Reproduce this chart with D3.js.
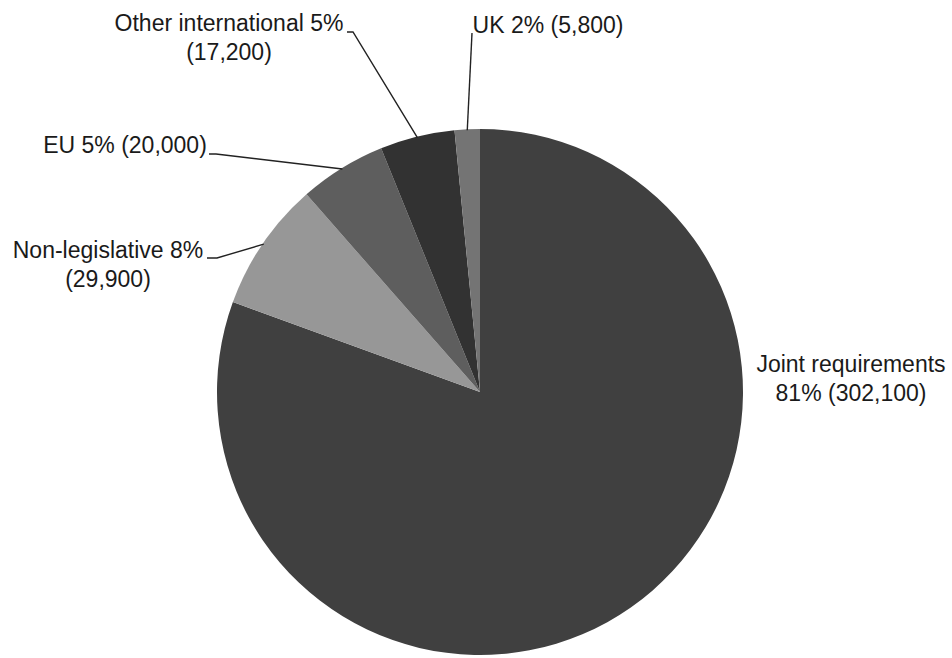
<!DOCTYPE html>
<html>
<head>
<meta charset="utf-8">
<script src="https://cdn.jsdelivr.net/npm/d3@7"></script>
<style>
  html, body { margin: 0; padding: 0; background: #ffffff; }
  svg { display: block; }
  text { font-family: "Liberation Sans", Arial, sans-serif; font-size: 23px; fill: #1a1a1a; }
</style>
</head>
<body>
<svg id="chart" width="952" height="658"></svg>
<script>
// ---- data ----
const categories = ["Joint requirements", "Non-legislative", "EU", "Other international", "UK"];
const values = [302100, 29900, 20000, 17200, 5800];
const colors = ["#404040", "#979797", "#5e5e5e", "#323232", "#747474"];

// ---- layout (label placement) ----
const cx = 480, cy = 392, r = 263;
const labelLayout = [
  { x: 851, y: 372, lines: 2, leader: null },
  { x: 108, y: 258, lines: 2, leader: [[207, 258], [217, 258]] },
  { x: 125, y: 153, lines: 1, leader: [[209, 154], [216, 154]] },
  { x: 229, y: 31, lines: 2, leader: [[347, 32], [353, 32]] },
  { x: 548, y: 33, lines: 1, leader: [[472, 33]] }
];

const total = d3.sum(values);
const pct = v => Math.round(v / total * 100) + "%";
const num = d3.format(",");

const svg = d3.select("#chart");
const g = svg.append("g").attr("transform", `translate(${cx},${cy})`);

const pie = d3.pie().sort(null).value(d => d.value);
const data = categories.map((c, i) => ({ name: c, value: values[i], color: colors[i], layout: labelLayout[i] }));
const arcs = pie(data);
const arc = d3.arc().innerRadius(0).outerRadius(r);
const edgeArc = d3.arc().innerRadius(r - 1).outerRadius(r - 1);

g.selectAll("path.slice").data(arcs).enter().append("path")
  .attr("class", "slice")
  .attr("d", arc)
  .attr("fill", d => d.data.color);

// leader lines
arcs.forEach(a => {
  const L = a.data.layout;
  if (!L.leader) return;
  const c = edgeArc.centroid(a);
  const pts = L.leader.concat([[c[0] + cx, c[1] + cy]]);
  svg.append("path")
    .attr("d", d3.line()(pts))
    .attr("fill", "none")
    .attr("stroke", "#222")
    .attr("stroke-width", 1.4);
});

// labels
arcs.forEach(a => {
  const L = a.data.layout;
  const d = a.data;
  let lines;
  if (d.name === "Joint requirements") lines = [d.name, pct(d.value) + " (" + num(d.value) + ")"];
  else if (L.lines === 2) lines = [d.name + " " + pct(d.value), "(" + num(d.value) + ")"];
  else lines = [d.name + " " + pct(d.value) + " (" + num(d.value) + ")"];
  const t = svg.append("text").attr("text-anchor", "middle");
  lines.forEach((s, i) => {
    t.append("tspan").attr("x", L.x).attr("y", L.y + i * 29).text(s);
  });
});
</script>
</body>
</html>
